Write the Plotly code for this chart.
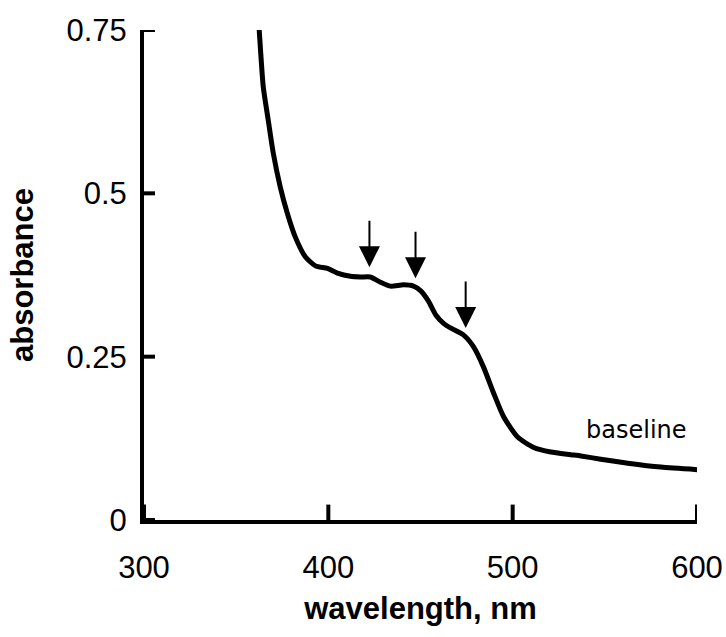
import plotly.graph_objects as go

# Absorbance spectrum
wavelength = [361.8, 362.5, 364.7, 367.4, 370.1, 373.9, 377.7, 382.1, 387.5, 393.0,
              399.5, 404.9, 412.0, 417.4, 422.8, 428.3, 433.7, 440.8, 446.2, 450.0,
              454.3, 458.5, 462.5, 466.3, 473.4, 478.8, 484.2, 489.7, 495.1, 502.7,
              511.4, 520.7, 531.5, 537.0, 547.8, 562.5, 580.4, 600.5]
absorbance = [0.78, 0.750, 0.663, 0.612, 0.562, 0.510, 0.470, 0.433, 0.403, 0.389,
              0.385, 0.378, 0.373, 0.372, 0.372, 0.364, 0.358, 0.360, 0.358, 0.351,
              0.335, 0.313, 0.301, 0.294, 0.283, 0.265, 0.234, 0.194, 0.158, 0.127,
              0.111, 0.104, 0.100, 0.098, 0.093, 0.087, 0.081, 0.077]

# Arrows marking the shoulders (tip position)
arrow_x = [422.3, 447.3, 474.5]
arrow_y = [0.387, 0.370, 0.294]

x_ticks = [300, 400, 500, 600]
y_ticks = [0, 0.25, 0.5, 0.75]
y_ticktext = ["0", "0.25", "0.5", "0.75"]

label_text = "baseline"
label_x, label_y = 567.4, 0.138

x_min, x_max = 300, 600
y_min, y_max = 0, 0.75

W, H = 726, 637
M = dict(l=144, r=29, t=30, b=117)
PLOT_W = W - M["l"] - M["r"]
PLOT_H = H - M["t"] - M["b"]

fig = go.Figure()
fig.add_trace(go.Scatter(
    x=wavelength, y=absorbance, mode="lines",
    line=dict(color="black", width=5, shape="spline", smoothing=0.6),
    showlegend=False, hoverinfo="skip"))

# inward tick marks: markers centred on the axis, half clipped by the plot area
TICK_LEN = 11
fig.add_trace(go.Scatter(
    x=x_ticks, y=[y_min] * len(x_ticks), mode="markers", cliponaxis=True,
    marker=dict(symbol="line-ns", size=2 * TICK_LEN, color="black",
                line=dict(color="black", width=4)),
    showlegend=False, hoverinfo="skip"))
for yv in y_ticks:
    fig.add_shape(type="line", xref="x domain", yref="y",
                  y0=yv, y1=yv, x0=0, x1=TICK_LEN / PLOT_W,
                  line=dict(color="black", width=4))

for ax_, ay_ in zip(arrow_x, arrow_y):
    fig.add_annotation(x=ax_, y=ay_, xref="x", yref="y", text="",
                       showarrow=True, ax=0, ay=-48, arrowhead=2,
                       arrowwidth=2, arrowsize=2.1, arrowcolor="black",
                       standoff=0)

fig.add_annotation(x=label_x, y=label_y, xref="x", yref="y", text=label_text,
                   showarrow=False, font=dict(family="DejaVu Sans", size=24, color="black"))

axis_font = dict(family="Arial, Liberation Sans", size=31, color="black")
title_font = dict(family="Arial, Liberation Sans", size=31, color="black")

fig.update_xaxes(range=[x_min, x_max], tickmode="array", tickvals=x_ticks,
                 ticks="", showline=True, linewidth=4,
                 linecolor="black", showgrid=False, zeroline=False,
                 tickfont=axis_font, ticklabelstandoff=17, automargin=False,
                 title=dict(text="<b>wavelength, nm</b>", font=title_font, standoff=14))
fig.update_yaxes(range=[y_min, y_max], tickmode="array", tickvals=y_ticks, ticktext=y_ticktext,
                 ticks="", showline=True, linewidth=4, linecolor="black", showgrid=False,
                 zeroline=False, tickfont=axis_font, ticklabelstandoff=7,
                 automargin=False,
                 title=dict(text="<b>absorbance</b>", font=title_font, standoff=25))

fig.update_layout(width=W, height=H, paper_bgcolor="white", plot_bgcolor="white",
                  margin=M)

fig.write_html("out.html")
